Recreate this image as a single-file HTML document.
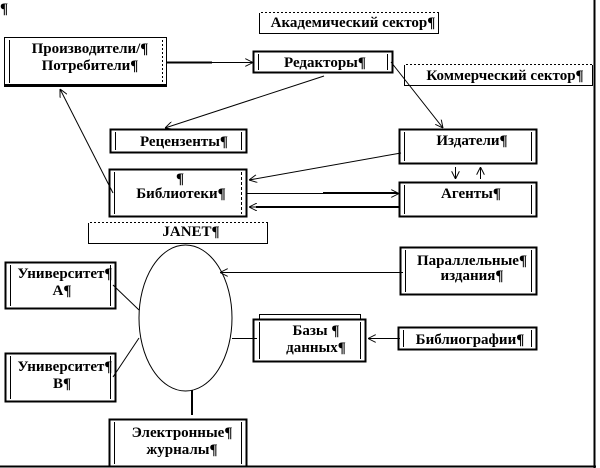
<!DOCTYPE html>
<html><head><meta charset="utf-8"><style>
html,body{margin:0;padding:0;background:#fff;}
svg{display:block;}
text{font-family:"Liberation Serif","DejaVu Serif",serif;font-weight:bold;font-size:15px;fill:#000;}
</style></head><body>
<svg width="600" height="468" viewBox="0 0 600 468" xmlns="http://www.w3.org/2000/svg">
<defs>
<marker id="a" viewBox="0 0 10 10" refX="10" refY="5" markerUnits="userSpaceOnUse" markerWidth="8" markerHeight="8" orient="auto">
<path d="M0,0 L10,5 L0,10" fill="none" stroke="#000" stroke-width="1.2"/>
</marker>
</defs>
<rect width="600" height="468" fill="#fff"/>
<text x="0" y="13" text-anchor="start">¶</text>

<!-- frame lines -->
<line x1="594.5" y1="0" x2="594.5" y2="468" stroke="#000" stroke-width="2"/>
<line x1="0" y1="466.5" x2="596" y2="466.5" stroke="#000" stroke-width="2"/>

<!-- Producers -->
<g stroke="#000" fill="#fff">
<rect x="4.5" y="37.5" width="162" height="48" stroke-width="1"/>
<line x1="4" y1="85.5" x2="167" y2="85.5" stroke-width="3"/>
<line x1="9.5" y1="40" x2="9.5" y2="83" stroke-width="1"/>
<line x1="162.5" y1="40" x2="162.5" y2="83" stroke-width="1" stroke-dasharray="2,2"/>
</g>
<text x="90" y="53" text-anchor="middle">Производители/¶</text>
<text x="90" y="70" text-anchor="middle">Потребители¶</text>

<!-- Академический сектор -->
<rect x="259.5" y="12.5" width="179" height="21" fill="#fff" stroke="#000" stroke-width="1"/>
<line x1="259" y1="12.5" x2="439" y2="12.5" stroke="#fff" stroke-width="1" stroke-dasharray="2,2"/>
<text x="353" y="27" text-anchor="middle">Академический сектор¶</text>

<!-- Коммерческий сектор -->
<rect x="404.5" y="64.5" width="188" height="21" fill="#fff" stroke="#000" stroke-width="1"/>
<line x1="404" y1="64.5" x2="593" y2="64.5" stroke="#fff" stroke-width="1" stroke-dasharray="2,2"/>
<text x="505" y="80" text-anchor="middle">Коммерческий сектор¶</text>

<!-- Редакторы -->
<g stroke="#000" fill="#fff">
<rect x="253.5" y="51.5" width="139" height="21" stroke-width="2"/>
<line x1="258.5" y1="54" x2="258.5" y2="70" stroke-width="1"/>
<line x1="387.5" y1="54" x2="387.5" y2="70" stroke-width="1"/>
</g>
<text x="325" y="67" text-anchor="middle">Редакторы¶</text>

<!-- Рецензенты -->
<g stroke="#000" fill="#fff">
<rect x="110.5" y="129.5" width="136" height="23" stroke-width="2"/>
<line x1="115.5" y1="132" x2="115.5" y2="150" stroke-width="1"/>
<line x1="241.5" y1="132" x2="241.5" y2="150" stroke-width="1"/>
</g>
<text x="184" y="146" text-anchor="middle">Рецензенты¶</text>

<!-- Издатели -->
<g stroke="#000" fill="#fff">
<rect x="399.5" y="129.5" width="137" height="34" stroke-width="2"/>
<line x1="404.5" y1="132" x2="404.5" y2="161" stroke-width="1"/>
<line x1="531.5" y1="132" x2="531.5" y2="161" stroke-width="1"/>
</g>
<text x="472" y="145" text-anchor="middle">Издатели¶</text>

<!-- Библиотеки -->
<g stroke="#000" fill="#fff">
<rect x="109.5" y="169.5" width="137" height="47" stroke-width="2"/>
<line x1="114.5" y1="172" x2="114.5" y2="214" stroke-width="1"/>
<line x1="241.5" y1="172" x2="241.5" y2="214" stroke-width="1" stroke-dasharray="3,2"/>
</g>
<text x="180" y="183" text-anchor="middle">¶</text>
<text x="181" y="198" text-anchor="middle">Библиотеки¶</text>

<!-- Агенты -->
<g stroke="#000" fill="#fff">
<rect x="399.5" y="182.5" width="137" height="34" stroke-width="2"/>
<line x1="404.5" y1="185" x2="404.5" y2="214" stroke-width="1"/>
<line x1="531.5" y1="185" x2="531.5" y2="214" stroke-width="1"/>
</g>
<text x="471" y="198" text-anchor="middle">Агенты¶</text>

<!-- JANET -->
<rect x="88.5" y="222.5" width="179" height="21" fill="#fff" stroke="#000" stroke-width="1"/>
<line x1="88" y1="222.5" x2="268" y2="222.5" stroke="#fff" stroke-width="1" stroke-dasharray="2,2"/>
<text x="191" y="236" text-anchor="middle">JANET¶</text>

<!-- Ellipse -->
<ellipse cx="185.5" cy="318" rx="46.5" ry="73" fill="#fff" stroke="#000" stroke-width="1"/>

<!-- Университет A -->
<g stroke="#000" fill="#fff">
<rect x="5.5" y="262.5" width="110" height="46" stroke-width="2"/>
<line x1="10.5" y1="265" x2="10.5" y2="306" stroke-width="1"/>
<line x1="110.5" y1="265" x2="110.5" y2="306" stroke-width="1"/>
</g>
<text x="65" y="278" text-anchor="middle">Университет¶</text>
<text x="62" y="295" text-anchor="middle">А¶</text>

<!-- Университет B -->
<g stroke="#000" fill="#fff">
<rect x="5.5" y="353.5" width="110" height="48" stroke-width="2"/>
<line x1="10.5" y1="356" x2="10.5" y2="399" stroke-width="1"/>
<line x1="110.5" y1="356" x2="110.5" y2="399" stroke-width="1"/>
</g>
<text x="65" y="371" text-anchor="middle">Университет¶</text>
<text x="62" y="388" text-anchor="middle">В¶</text>

<!-- Электронные журналы -->
<g stroke="#000" fill="#fff">
<rect x="109.5" y="419.5" width="137" height="47" stroke-width="2"/>
<line x1="114.5" y1="422" x2="114.5" y2="464" stroke-width="1"/>
<line x1="241.5" y1="422" x2="241.5" y2="464" stroke-width="1"/>
</g>
<text x="182" y="437" text-anchor="middle">Электронные¶</text>
<text x="182" y="454" text-anchor="middle">журналы¶</text>

<!-- Параллельные издания -->
<g stroke="#000" fill="#fff">
<rect x="400.5" y="247.5" width="136" height="47" stroke-width="2"/>
<line x1="405.5" y1="250" x2="405.5" y2="292" stroke-width="1"/>
<line x1="531.5" y1="250" x2="531.5" y2="292" stroke-width="1"/>
</g>
<text x="472" y="265" text-anchor="middle">Параллельные¶</text>
<text x="472" y="280" text-anchor="middle">издания¶</text>

<!-- Базы данных -->
<g stroke="#000" fill="#fff">
<rect x="259.5" y="314.5" width="101" height="20" stroke-width="1"/>
<rect x="253.5" y="319.5" width="112" height="42" stroke-width="2"/>
<line x1="259.5" y1="322" x2="259.5" y2="359" stroke-width="1"/>
<line x1="360.5" y1="322" x2="360.5" y2="359" stroke-width="1"/>
</g>
<text x="316" y="335" text-anchor="middle">Базы ¶</text>
<text x="316" y="352" text-anchor="middle">данных¶</text>

<!-- Библиографии -->
<g stroke="#000" fill="#fff">
<rect x="398.5" y="327.5" width="138" height="22" stroke-width="2"/>
<line x1="403.5" y1="330" x2="403.5" y2="347" stroke-width="1"/>
<line x1="531.5" y1="330" x2="531.5" y2="347" stroke-width="1"/>
</g>
<text x="470" y="344" text-anchor="middle">Библиографии¶</text>

<!-- connectors -->
<g stroke="#000" fill="none" stroke-width="1">
<line x1="167" y1="62.5" x2="212" y2="62.5" stroke-width="2"/>
<line x1="167" y1="62.5" x2="253" y2="62.5" marker-end="url(#a)"/>
<line x1="324" y1="76" x2="165" y2="128" marker-end="url(#a)"/>
<line x1="391" y1="62" x2="443" y2="128" marker-end="url(#a)"/>
<line x1="113" y1="193" x2="60" y2="89" marker-end="url(#a)"/>
<line x1="401" y1="153" x2="249" y2="180" marker-end="url(#a)"/>
<line x1="323" y1="193" x2="397" y2="193" stroke-width="2"/>
<line x1="247" y1="193.5" x2="399" y2="193.5" marker-end="url(#a)"/>
<line x1="399" y1="207" x2="256" y2="207" stroke-width="2"/>
<line x1="399" y1="207" x2="249" y2="207" marker-end="url(#a)"/>
<line x1="455.5" y1="167" x2="455.5" y2="179" marker-end="url(#a)"/>
<line x1="480.5" y1="179" x2="480.5" y2="167" marker-end="url(#a)"/>
<line x1="113" y1="285" x2="139" y2="310"/>
<line x1="113" y1="377" x2="139" y2="338"/>
<line x1="232" y1="338.5" x2="257" y2="338.5"/>
<line x1="403" y1="272.5" x2="220" y2="272.5" marker-end="url(#a)"/>
<line x1="400" y1="338.5" x2="368" y2="338.5" marker-end="url(#a)"/>
<line x1="192" y1="390" x2="192" y2="415" stroke-width="2"/>
</g>
</svg>
</body></html>
